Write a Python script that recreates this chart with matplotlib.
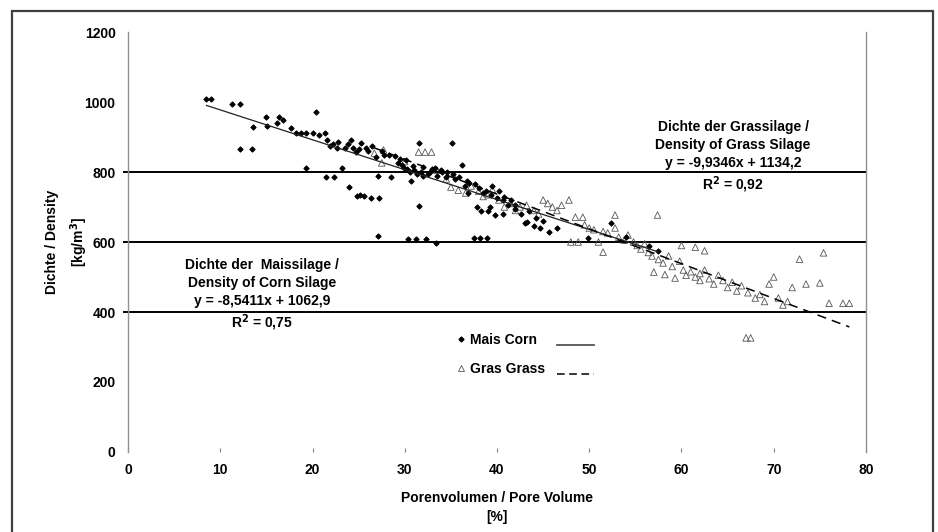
import matplotlib
matplotlib.use("Agg")
from matplotlib import pyplot as plt
from matplotlib.lines import Line2D
from matplotlib.patches import Rectangle
import numpy as np

# Mais / Corn
corn_x = [8.5, 9.0, 11.3, 12.1, 12.1, 13.4, 13.5, 15.0, 15.1, 16.2, 16.4, 16.8, 17.7, 18.2, 18.8,
          19.3, 19.3, 20.0, 20.4, 20.7, 21.3, 21.5, 22.3, 21.6, 22.2, 22.8, 23.2, 23.5, 24.0, 24.2,
          24.7, 24.8, 25.2, 25.6, 25.3, 25.8, 26.3, 26.9, 26.5, 27.1, 27.2, 27.1, 27.5, 28.3, 28.5,
          28.9, 29.5, 30.1, 29.7, 30.2, 30.7, 30.4, 31.0, 31.2, 31.5, 31.5, 31.8, 32.0, 32.3, 32.5,
          33.0, 33.4, 33.5, 34.0, 34.5, 35.1, 35.5, 36.2, 36.5, 37.0, 37.5, 37.8, 38.2, 38.5, 38.9,
          39.0, 39.8, 39.5, 40.2, 40.8, 41.5, 42.0, 43.0, 43.5, 44.2, 45.0, 45.6, 46.5, 49.9, 52.4,
          54.0, 56.5, 57.5,
          29.9, 30.6, 31.3, 32.0, 32.7, 33.3, 33.9, 30.9, 29.3, 34.6, 35.2, 35.9, 36.8, 37.6, 38.1,
          38.8, 39.3, 40.0, 40.6, 41.2, 41.9, 42.6, 43.3, 44.0, 44.7, 21.9, 22.6, 23.8, 24.4, 25.0,
          26.0, 27.8, 36.9, 38.3, 39.2, 40.6]
corn_y = [1009, 1009, 994, 994, 866, 866, 929, 957, 931, 940, 957, 950, 926, 911, 911,
          911, 811, 911, 971, 905, 911, 786, 786, 891, 880, 885, 811, 870, 757, 891,
          857, 731, 735, 731, 883, 870, 726, 843, 875, 789, 726, 617, 860, 849, 786,
          845, 838, 834, 820, 810, 774, 609, 805, 609, 703, 883, 800, 815, 609, 795,
          810, 597, 790, 800, 785, 883, 780, 820, 760, 770, 611, 700, 611, 740, 611,
          690, 677, 760, 745, 730, 720, 705, 654, 690, 670, 660, 629, 640, 611, 654,
          615, 590, 575,
          812, 800, 795, 790, 800, 812, 805, 818, 825, 800, 795, 785, 775, 765, 755,
          745, 735, 725, 720, 705, 695, 680, 657, 645, 640, 875, 870, 880, 870, 865,
          860, 850, 740, 690, 700, 680]

# Gras / Grass
grass_x = [26.7, 27.5, 27.7, 30.0, 31.5, 32.2, 32.9, 33.5, 34.5, 35.0, 35.8, 36.6, 37.2, 38.0, 38.5,
           39.0, 39.5, 40.2, 40.8, 41.5, 42.0, 42.5, 43.2, 44.0, 44.5, 45.0, 45.5, 46.0, 46.5, 47.0,
           47.8, 48.5, 49.3, 48.0, 48.8, 49.5, 50.0, 50.5, 51.0, 51.5, 51.5, 52.0, 52.8, 52.8, 53.2,
           53.8, 54.2, 54.8, 55.2, 55.6, 56.0, 56.4, 56.8, 57.0, 57.4, 57.5, 58.0, 58.2, 58.6, 59.0,
           59.3, 59.8, 60.0, 60.2, 60.5, 61.0, 61.5, 61.5, 62.0, 62.0, 62.5, 62.5, 63.0, 63.5, 64.0,
           64.5, 65.0, 65.5, 66.0, 66.5, 67.0, 67.5, 67.2, 68.0, 68.5, 69.0, 69.5, 70.0, 70.5, 71.0,
           71.5, 72.0, 72.8, 73.5, 75.0, 75.4, 76.0, 77.5, 78.2]
grass_y = [854, 826, 863, 830, 857, 857, 857, 805, 780, 757, 748, 740, 760, 745, 730,
           735, 750, 720, 700, 710, 690, 700, 705, 690, 680, 720, 710, 700, 690, 705,
           720, 671, 671, 600, 600, 649, 640, 635, 600, 571, 630, 626, 677, 640, 614,
           605, 620, 600, 590, 580, 595, 570, 560, 514, 677, 550, 540, 507, 560, 530,
           497, 545, 590, 520, 505, 515, 500, 585, 490, 510, 520, 575, 495, 480, 505,
           490, 470, 485, 460, 475, 326, 326, 455, 440, 450, 430, 480, 500, 440, 420,
           430, 470, 551, 480, 483, 569, 425, 425, 425]

corn_fit = (-8.5411, 1062.9)
grass_fit = (-9.9346, 1134.2)
ref_levels = [400, 600, 800]

plt.rcParams['font.family'] = ['Liberation Sans', 'DejaVu Sans']
plt.rcParams['font.weight'] = 'bold'

fig = plt.figure(figsize=(9.38, 5.32), dpi=100)
ax = fig.add_axes([0.1365, 0.1504, 0.7867, 0.7894])

ax.hlines(ref_levels, -0.6, 80, colors='black', lw=1.4, clip_on=False, zorder=1)

ax.scatter(grass_x, grass_y, marker='^', s=22, facecolors='none',
           edgecolors='#555555', linewidths=0.6, zorder=2)
ax.scatter(corn_x, corn_y, marker='D', s=6, color='black', zorder=3)

cx = np.array([min(corn_x), max(corn_x)])
ax.plot(cx, corn_fit[0] * cx + corn_fit[1], color='#222222', lw=0.9, zorder=4)
gx = np.array([min(grass_x), max(grass_x)])
ax.plot(gx, grass_fit[0] * gx + grass_fit[1], color='black', lw=1.1,
        ls=(0, (6, 4)), zorder=4)

ax.set_xlim(0, 80)
ax.set_ylim(0, 1200)
ax.set_xticks(range(0, 81, 10))
ax.set_yticks(range(0, 1201, 200))
ax.tick_params(axis='x', direction='in', length=3, color='#808080', pad=8, labelsize=10)
ax.tick_params(axis='y', length=0, pad=9, labelsize=10)
for s in ['top', 'bottom']:
    ax.spines[s].set_visible(False)
for s in ['left', 'right']:
    ax.spines[s].set_color('#909090')
    ax.spines[s].set_linewidth(1.0)

ax.set_xlabel('Porenvolumen / Pore Volume\n[%]', fontsize=10, fontweight='bold',
              labelpad=10, linespacing=1.5)
ax.set_ylabel('Dichte / Density\n[kg/m$^{3}$]', fontsize=10, fontweight='bold',
              labelpad=-4, linespacing=1.6)

ax.text(65.6, 877, 'Dichte der Grassilage /\nDensity of Grass Silage\ny = -9,9346x + 1134,2',
        ha='center', va='center', fontsize=10, fontweight='bold', linespacing=1.35)
ax.text(65.6, 763, 'R$^{2}$ = 0,92', ha='center', va='center', fontsize=10, fontweight='bold')
ax.text(14.5, 483, 'Dichte der  Maissilage /\nDensity of Corn Silage\ny = -8,5411x + 1062,9',
        ha='center', va='center', fontsize=10, fontweight='bold', linespacing=1.35)
ax.text(14.5, 369, 'R$^{2}$ = 0,75', ha='center', va='center', fontsize=10, fontweight='bold')

mark_handles = [Line2D([], [], ls='none', marker='D', ms=2.5, color='black'),
                Line2D([], [], ls='none', marker='^', ms=4.5, mfc='none', mec='#555555', mew=0.6)]
leg1 = ax.legend(mark_handles, ['Mais Corn', 'Gras Grass'], loc='upper left',
                 bbox_to_anchor=(0.428, 0.314), frameon=False,
                 handlelength=0.6, handletextpad=0.36, labelspacing=1.09,
                 prop={'weight': 'bold', 'size': 10})
ax.add_artist(leg1)
line_handles = [Line2D([], [], color='#444444', lw=1.2),
                Line2D([], [], color='black', lw=1.1, ls=(0, (5, 3)))]
ax.legend(line_handles, ['', ''], loc='upper left', bbox_to_anchor=(0.565, 0.300),
          frameon=False, handlelength=2.66, handletextpad=0, labelspacing=1.09,
          prop={'weight': 'bold', 'size': 10})

fig.patches.append(Rectangle((0.0128, -0.02), 0.9819, 0.999, transform=fig.transFigure,
                             fill=False, edgecolor='#404040', lw=1.6))

fig.savefig('out.png', dpi=100)
